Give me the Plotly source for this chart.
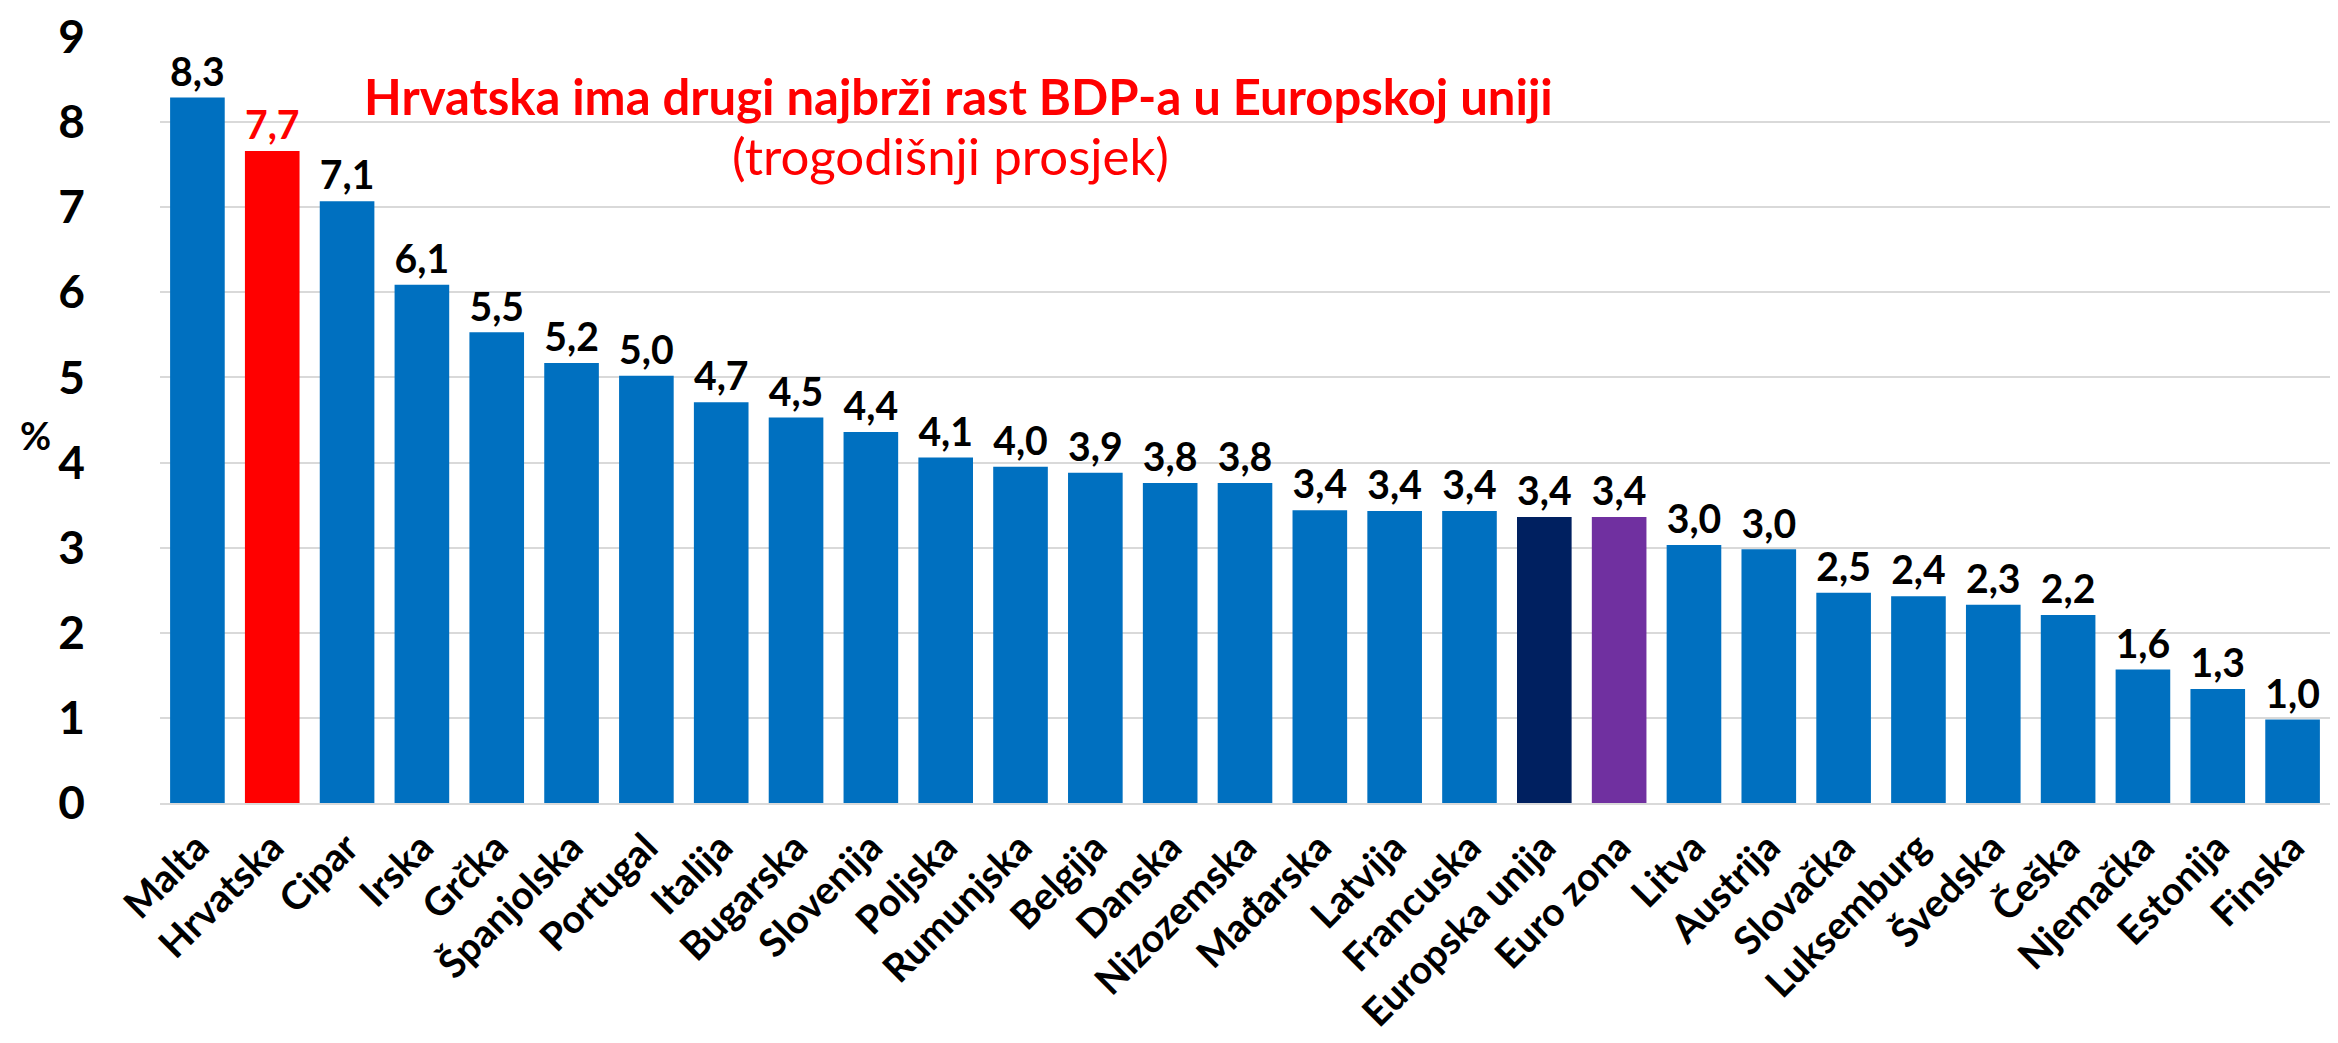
import plotly.graph_objects as go

# three-year average GDP growth, %
countries = [
    "Malta", "Hrvatska", "Cipar", "Irska", "Grčka", "Španjolska", "Portugal",
    "Italija", "Bugarska", "Slovenija", "Poljska", "Rumunjska", "Belgija",
    "Danska", "Nizozemska", "Mađarska", "Latvija", "Francuska",
    "Europska unija", "Euro zona", "Litva", "Austrija", "Slovačka",
    "Luksemburg", "Švedska", "Češka", "Njemačka", "Estonija", "Finska",
]
growth = [
    8.29, 7.66, 7.07, 6.09, 5.53, 5.17, 5.02, 4.71, 4.53, 4.36, 4.06, 3.95,
    3.88, 3.76, 3.76, 3.44, 3.43, 3.43, 3.36, 3.36, 3.03, 2.98, 2.47, 2.43,
    2.33, 2.21, 1.57, 1.34, 0.98,
]

BLUE = "#0070C0"
highlight = {"Hrvatska": "#FF0000", "Europska unija": "#002060", "Euro zona": "#7030A0"}

bar_colors = [highlight.get(c, BLUE) for c in countries]
label_colors = ["#FF0000" if c == "Hrvatska" else "black" for c in countries]
labels = [f"{v:.1f}".replace(".", ",") for v in growth]

FONT = "Lato"

fig = go.Figure(go.Bar(
    x=countries, y=growth,
    marker=dict(color=bar_colors, line=dict(width=0)),
    text=labels, textposition="outside", cliponaxis=False,
    textfont=dict(family=FONT, size=40, color=label_colors, weight="bold"),
))

fig.update_layout(
    plot_bgcolor="white", paper_bgcolor="white",
    margin=dict(l=152, r=0, t=29, b=232),
    bargap=0.27, showlegend=False,
    font=dict(family=FONT, color="black"),
)
fig.update_yaxes(
    range=[0, 9], dtick=1, showgrid=True, gridcolor="#D9D9D9", gridwidth=2,
    zeroline=False, ticklabelstandoff=74, automargin=False,
    tickfont=dict(family=FONT, size=46, weight="bold"),
)
fig.update_xaxes(
    tickangle=-45, showline=True, linecolor="#D9D9D9", linewidth=2,
    ticklabelstandoff=4, automargin=False,
    tickfont=dict(family=FONT, size=39, weight="bold"),
)

fig.add_annotation(
    text="%", xref="paper", yref="paper", x=-125 / 2186, y=0.48,
    xanchor="center", showarrow=False,
    font=dict(family=FONT, size=38, weight="bold"),
)
fig.add_annotation(
    text="Hrvatska ima drugi najbrži rast BDP-a u Europskoj uniji",
    xref="paper", yref="paper", x=(956 - 152) / 2186, y=(807 - 85) / 782,
    xanchor="center", yanchor="middle", showarrow=False,
    font=dict(family=FONT, size=49, color="#FF0000", weight="bold"),
)
fig.add_annotation(
    text="(trogodišnji prosjek)",
    xref="paper", yref="paper", x=(948 - 152) / 2186, y=(807 - 146) / 782,
    xanchor="center", yanchor="middle", showarrow=False,
    font=dict(family=FONT, size=51, color="#FF0000"),
)

fig.write_html("out.html")
